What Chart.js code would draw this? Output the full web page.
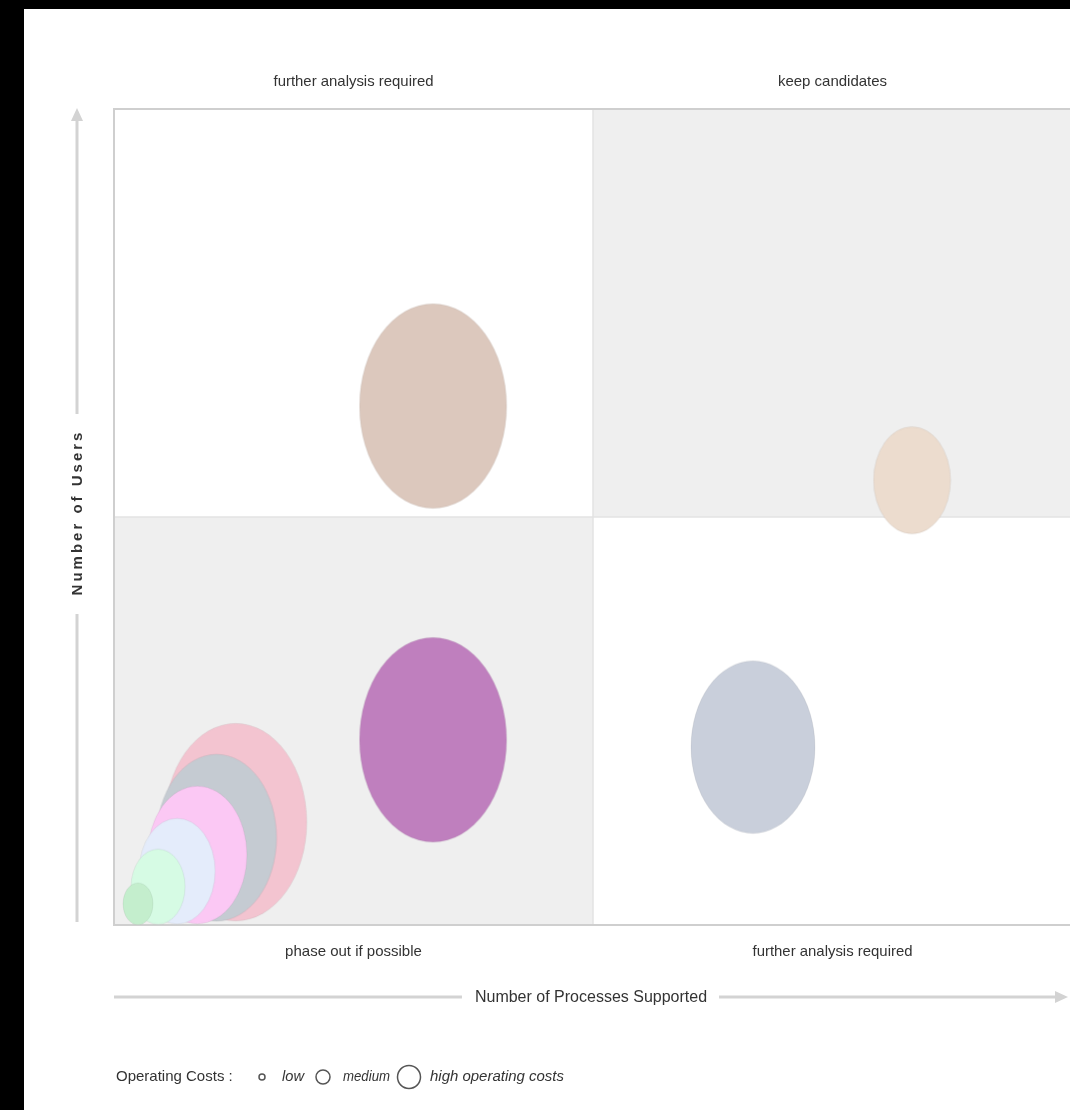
<!DOCTYPE html>
<html>
<head>
<meta charset="utf-8">
<script src="https://cdn.jsdelivr.net/npm/chart.js@4"></script>
<style>
html, body { margin: 0; background: #000; overflow: hidden; }
#wrap { position: absolute; left: 24px; top: 9px; width: 1100px; height: 1101px; background: #fff; }
</style>
</head>
<body>
<div id="wrap"><canvas id="chart" width="1100" height="1101"></canvas></div>
<script>
// Portfolio matrix: processes supported vs. users, bubble size = operating costs.
const procs = [3.33, 8.33, 3.33, 6.67, 1.27, 1.07, 0.87, 0.66, 0.46, 0.25];
const users = [6.36, 5.45, 2.27, 2.18, 1.26, 1.07, 0.86, 0.66, 0.47, 0.26];
const costs = [73.5, 38.5, 73.5, 62, 71, 60, 49.5, 38, 27, 15];
const colors = ["#dcc8bd", "#ecdcce", "#bf7fbe", "#c9cfdb", "#f3c4d0",
                "#c5cbd2", "#fbc8f4", "#e4ecfb", "#d6fbe4", "#c4eecd"];

const topLabels = ["further analysis required", "keep candidates"];
const bottomLabels = ["phase out if possible", "further analysis required"];
const xTitle = "Number of Processes Supported";
const yTitle = "Number of Users";
const legendTitle = "Operating Costs :";
const legendItems = ["low", "medium", "high operating costs"];

const FONT = '"Liberation Sans", Arial, sans-serif';
const STRETCH = 1.39; // bubbles in the original are taller than wide

// bubbles drawn as ellipses through a canvas point style
const styleCache = {};
function ellipseStyle(r, color) {
    const key = r + color;
    if (styleCache[key]) return styleCache[key];
    const c = document.createElement("canvas");
    c.width = Math.ceil(2 * r + 2);
    c.height = Math.ceil(2 * r * STRETCH + 2);
    const g = c.getContext("2d");
    g.beginPath();
    g.ellipse(c.width / 2, c.height / 2, r, r * STRETCH, 0, 0, Math.PI * 2);
    g.fillStyle = color;
    g.fill();
    g.lineWidth = 1;
    g.strokeStyle = "rgba(0,0,0,0.06)";
    g.stroke();
    styleCache[key] = c;
    return c;
}

function arrow(ctx, x1, y1, x2, y2) {
    const ang = Math.atan2(y2 - y1, x2 - x1);
    ctx.beginPath();
    ctx.moveTo(x2, y2);
    ctx.lineTo(x2 - 13 * Math.cos(ang) + 6 * Math.sin(ang), y2 - 13 * Math.sin(ang) - 6 * Math.cos(ang));
    ctx.lineTo(x2 - 13 * Math.cos(ang) - 6 * Math.sin(ang), y2 - 13 * Math.sin(ang) + 6 * Math.cos(ang));
    ctx.closePath();
    ctx.fill();
}

const matrixPlugin = {
    id: "matrix",
    beforeDatasetsDraw(chart) {
        const { ctx, chartArea: a, scales: { x, y } } = chart;
        const mx = x.getPixelForValue(5), my = y.getPixelForValue(5);
        ctx.save();
        ctx.fillStyle = "#efefef";
        ctx.fillRect(mx, a.top, a.right - mx, my - a.top);
        ctx.fillRect(a.left, my, mx - a.left, a.bottom - my);
        ctx.strokeStyle = "#e3e3e3";
        ctx.lineWidth = 1.5;
        ctx.beginPath();
        ctx.moveTo(mx, a.top); ctx.lineTo(mx, a.bottom);
        ctx.moveTo(a.left, my); ctx.lineTo(a.right, my);
        ctx.stroke();
        ctx.strokeStyle = "#cfcfcf";
        ctx.lineWidth = 2;
        ctx.strokeRect(a.left, a.top, a.right - a.left, a.bottom - a.top);
        ctx.restore();
    },
    afterDraw(chart) {
        const { ctx, chartArea: a, scales: { x } } = chart;
        ctx.save();
        ctx.fillStyle = "#333";
        ctx.textAlign = "center";
        ctx.textBaseline = "middle";
        ctx.font = "15px " + FONT;
        [2.5, 7.5].forEach((v, i) => {
            ctx.fillText(topLabels[i], x.getPixelForValue(v), a.top - 27, 160);
            ctx.fillText(bottomLabels[i], x.getPixelForValue(v), a.bottom + 27, 160);
        });

        // x axis title with arrow
        ctx.strokeStyle = "#d3d3d3";
        ctx.fillStyle = "#d3d3d3";
        ctx.lineWidth = 3;
        const ay = a.bottom + 72;
        const tx = 567;
        ctx.font = "16px " + FONT;
        const tw = ctx.measureText(xTitle).width;
        ctx.beginPath();
        ctx.moveTo(a.left, ay); ctx.lineTo(tx - tw / 2 - 13, ay);
        ctx.moveTo(tx + tw / 2 + 12, ay); ctx.lineTo(1032, ay);
        ctx.stroke();
        arrow(ctx, a.left, ay, 1044, ay);
        ctx.fillStyle = "#333";
        ctx.fillText(xTitle, tx, ay + 1);

        // y axis title with arrow
        const ax = 53;
        const cy = 505;
        ctx.font = "bold 15px " + FONT;
        ctx.letterSpacing = "3px";
        const yw = ctx.measureText(yTitle).width;
        ctx.fillStyle = "#d3d3d3";
        ctx.beginPath();
        ctx.moveTo(ax, a.bottom - 3); ctx.lineTo(ax, cy + yw / 2 + 17);
        ctx.moveTo(ax, cy - yw / 2 - 17); ctx.lineTo(ax, a.top + 11);
        ctx.stroke();
        arrow(ctx, ax, a.bottom, ax, a.top - 1);
        ctx.save();
        ctx.translate(ax + 1, cy);
        ctx.rotate(-Math.PI / 2);
        ctx.fillStyle = "#333";
        ctx.fillText(yTitle, 1.5, 0);
        ctx.restore();
        ctx.letterSpacing = "0px";

        // size legend
        const ly = 1068;
        ctx.textAlign = "left";
        ctx.font = "15px " + FONT;
        ctx.fillStyle = "#333";
        ctx.fillText(legendTitle, 92, ly, 124);
        const circ = [[238, 3], [299, 7], [385, 11.5]];
        const textX = [258, 319, 406];
        const textW = [22, 47, 134];
        ctx.strokeStyle = "#555";
        ctx.lineWidth = 1.5;
        circ.forEach(([cx, r], i) => {
            ctx.beginPath();
            ctx.arc(cx, ly, r, 0, Math.PI * 2);
            ctx.stroke();
            ctx.font = "italic 15px " + FONT;
            ctx.fillText(legendItems[i], textX[i], ly, textW[i]);
        });
        ctx.restore();
    }
};

new Chart(document.getElementById("chart"), {
    type: "bubble",
    data: {
        datasets: [{
            data: procs.map((v, i) => ({ x: v, y: users[i], r: costs[i] })),
            backgroundColor: colors,
            borderWidth: 0,
            pointStyle: (c) => ellipseStyle(costs[c.dataIndex], colors[c.dataIndex]),
        }],
    },
    options: {
        responsive: false,
        animation: false,
        layout: { autoPadding: false, padding: { left: 90, top: 100, right: 52, bottom: 185 } },
        plugins: { legend: { display: false }, tooltip: { enabled: false } },
        scales: {
            x: { display: false, min: 0, max: 10 },
            y: { display: false, min: 0, max: 10 },
        },
    },
    plugins: [matrixPlugin],
});
</script>
</body>
</html>
